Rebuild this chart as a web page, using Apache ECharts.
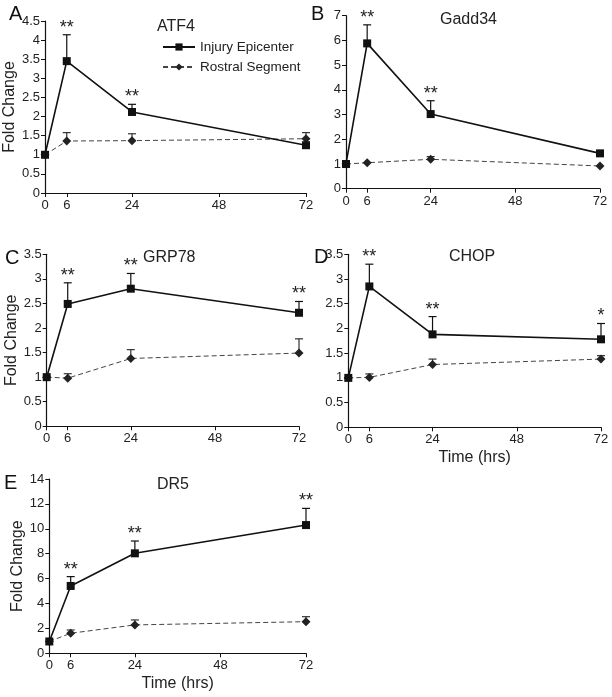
<!DOCTYPE html>
<html><head><meta charset="utf-8">
<script src="https://cdn.jsdelivr.net/npm/echarts@6/dist/echarts.min.js"></script>
<style>html,body{margin:0;padding:0;background:#fff}#c{width:612px;height:697px}</style>
</head><body><div id="c"></div>
<script>
var times = [0, 6, 24, 72];
var xTicks = [0, 6, 24, 48, 72];
var seriesNames = ['Injury Epicenter', 'Rostral Segment'];

var atf4Injury = [1.0, 3.45, 2.12, 1.25];
var atf4InjuryErr = [null, 4.14, 2.32, null];
var atf4Rostral = [1.0, 1.36, 1.37, 1.42];
var atf4RostralErr = [null, 1.58, 1.55, 1.58];
var atf4Stars = ['', '**', '**', ''];

var gadd34Injury = [1.0, 5.88, 3.02, 1.43];
var gadd34InjuryErr = [null, 6.63, 3.56, null];
var gadd34Rostral = [1.0, 1.05, 1.19, 0.92];
var gadd34RostralErr = [null, null, 1.30, null];
var gadd34Stars = ['', '**', '**', ''];

var grp78Injury = [1.0, 2.49, 2.80, 2.31];
var grp78InjuryErr = [null, 2.92, 3.11, 2.54];
var grp78Rostral = [1.0, 0.98, 1.38, 1.49];
var grp78RostralErr = [null, 1.07, 1.56, 1.78];
var grp78Stars = ['', '**', '**', '**'];

var chopInjury = [1.0, 2.85, 1.88, 1.78];
var chopInjuryErr = [null, 3.30, 2.24, 2.10];
var chopRostral = [1.0, 1.01, 1.27, 1.38];
var chopRostralErr = [null, 1.08, 1.38, 1.45];
var chopStars = ['', '**', '**', '*'];

var dr5Injury = [0.95, 5.41, 8.03, 10.3];
var dr5InjuryErr = [null, 6.16, 9.02, 11.64];
var dr5Rostral = [0.95, 1.61, 2.28, 2.54];
var dr5RostralErr = [null, 1.87, 2.68, 2.94];
var dr5Stars = ['', '**', '**', '**'];

var panels = [
  {letter:'A', title:'ATF4', inj:atf4Injury, injErr:atf4InjuryErr, ros:atf4Rostral, rosErr:atf4RostralErr, stars:atf4Stars, ymax:4.5, yint:0.5, yName:true, xName:false,
   grid:{left:45, right:306, top:21, bottom:504}, letterPos:[9,4], titlePos:[157,19]},
  {letter:'B', title:'Gadd34', inj:gadd34Injury, injErr:gadd34InjuryErr, ros:gadd34Rostral, rosErr:gadd34RostralErr, stars:gadd34Stars, ymax:7, yint:1, yName:false, xName:false,
   grid:{left:346, right:12, top:15.7, bottom:508.3}, letterPos:[311,4], titlePos:[440,12]},
  {letter:'C', title:'GRP78', inj:grp78Injury, injErr:grp78InjuryErr, ros:grp78Rostral, rosErr:grp78RostralErr, stars:grp78Stars, ymax:3.5, yint:0.5, yName:true, xName:false,
   grid:{left:46.7, right:313, top:254.3, bottom:270.7}, letterPos:[5,248], titlePos:[143,250]},
  {letter:'D', title:'CHOP', inj:chopInjury, injErr:chopInjuryErr, ros:chopRostral, rosErr:chopRostralErr, stars:chopStars, ymax:3.5, yint:0.5, yName:false, xName:true,
   grid:{left:348.3, right:11, top:254.3, bottom:269.7}, letterPos:[314,247], titlePos:[449,249]},
  {letter:'E', title:'DR5', inj:dr5Injury, injErr:dr5InjuryErr, ros:dr5Rostral, rosErr:dr5RostralErr, stars:dr5Stars, ymax:14, yint:2, yName:true, xName:true,
   grid:{left:49.3, right:306, top:479, bottom:43.7}, letterPos:[4,473], titlePos:[157,477]}
];

var FONT = 'Liberation Sans, Arial, sans-serif';
var TXT = '#222';
var grids = [], xAxes = [], yAxes = [], series = [], titles = [], graphics = [];

function errRender(color) {
  return function (params, api) {
    var x = api.value(0), v = api.value(1), e = api.value(2);
    if (e == null || isNaN(e)) return;
    var p0 = api.coord([x, v]), p1 = api.coord([x, e]);
    var style = {stroke: color, lineWidth: 1.2};
    return {type:'group', children:[
      {type:'line', shape:{x1:p0[0], y1:p0[1], x2:p1[0], y2:p1[1]}, style:style},
      {type:'line', shape:{x1:p1[0]-4, y1:p1[1], x2:p1[0]+4, y2:p1[1]}, style:style}
    ]};
  };
}
function starRender(params, api) {
  var x = api.value(0), y = api.value(1);
  var s = panels[api.value(2)].stars[params.dataIndex];
  if (!s) return;
  var p = api.coord([x, y]);
  return {type:'text', x:p[0], y:p[1]+2, style:{text:s, font:'18px ' + FONT, fill:'#222', align:'center', verticalAlign:'bottom'}};
}

panels.forEach(function (pn, i) {
  grids.push(Object.assign({containLabel:false}, pn.grid));
  xAxes.push({
    type:'value', gridIndex:i, min:0, max:72,
    axisLine:{lineStyle:{color:'#111', width:1.2}},
    axisTick:{customValues:xTicks, length:4, lineStyle:{color:'#111'}},
    axisLabel:{customValues:xTicks, color:TXT, fontSize:13, fontFamily:FONT, margin:6},
    splitLine:{show:false},
    name: pn.xName ? 'Time (hrs)' : '', nameLocation:'middle', nameGap:22,
    nameTextStyle:{color:TXT, fontSize:16, fontFamily:FONT}
  });
  yAxes.push({
    type:'value', gridIndex:i, min:0, max:pn.ymax, interval:pn.yint,
    axisLine:{show:true, lineStyle:{color:'#111', width:1.2}},
    axisTick:{show:true, length:4, lineStyle:{color:'#111'}},
    axisLabel:{color:TXT, fontSize:13, fontFamily:FONT, margin:5},
    splitLine:{show:false},
    name: pn.yName ? 'Fold Change' : '', nameLocation:'middle', nameGap:20,
    nameTextStyle:{color:TXT, fontSize:16, fontFamily:FONT}
  });
  var injData = times.map(function (t, k) { return [t, pn.inj[k]]; });
  var rosData = times.map(function (t, k) { return [t, pn.ros[k]]; });
  series.push({
    name:seriesNames[1], type:'line', xAxisIndex:i, yAxisIndex:i, data:rosData,
    symbol:'diamond', symbolSize:9, itemStyle:{color:'#222'},
    lineStyle:{color:'#444', width:1, type:[5,3]}, z:3
  });
  series.push({
    name:seriesNames[0], type:'line', xAxisIndex:i, yAxisIndex:i, data:injData,
    symbol:'rect', symbolSize:8, itemStyle:{color:'#111'},
    lineStyle:{color:'#111', width:1.6}, z:4
  });
  series.push({
    type:'custom', xAxisIndex:i, yAxisIndex:i, renderItem:errRender('#111'), z:4,
    data: times.map(function (t, k) { return [t, pn.inj[k], pn.injErr[k]]; })
  });
  series.push({
    type:'custom', xAxisIndex:i, yAxisIndex:i, renderItem:errRender('#333'), z:3,
    data: times.map(function (t, k) { return [t, pn.ros[k], pn.rosErr[k]]; })
  });
  series.push({
    type:'custom', xAxisIndex:i, yAxisIndex:i, renderItem:starRender, z:5,
    data: times.map(function (t, k) { return [t, pn.injErr[k] != null ? pn.injErr[k] : pn.inj[k], i]; })
  });
  titles.push({text:pn.title, left:pn.titlePos[0], top:pn.titlePos[1], padding:0,
    textStyle:{color:'#222', fontSize:16, fontWeight:'normal', fontFamily:FONT}});
  graphics.push({type:'text', left:pn.letterPos[0], top:pn.letterPos[1],
    style:{text:pn.letter, font:'20px ' + FONT, fill:'#111'}});
});

var chart = echarts.init(document.getElementById('c'), null, {renderer:'canvas'});
chart.setOption({
  animation:false,
  backgroundColor:'#fff',
  title:titles,
  graphic:graphics,
  legend:{
    data:seriesNames, orient:'vertical', left:162, top:40, padding:0, itemWidth:32, itemHeight:9, itemGap:6,
    textStyle:{color:'#222', fontSize:13.5, fontFamily:FONT}, selectedMode:false
  },
  grid:grids, xAxis:xAxes, yAxis:yAxes, series:series
});
</script></body></html>
